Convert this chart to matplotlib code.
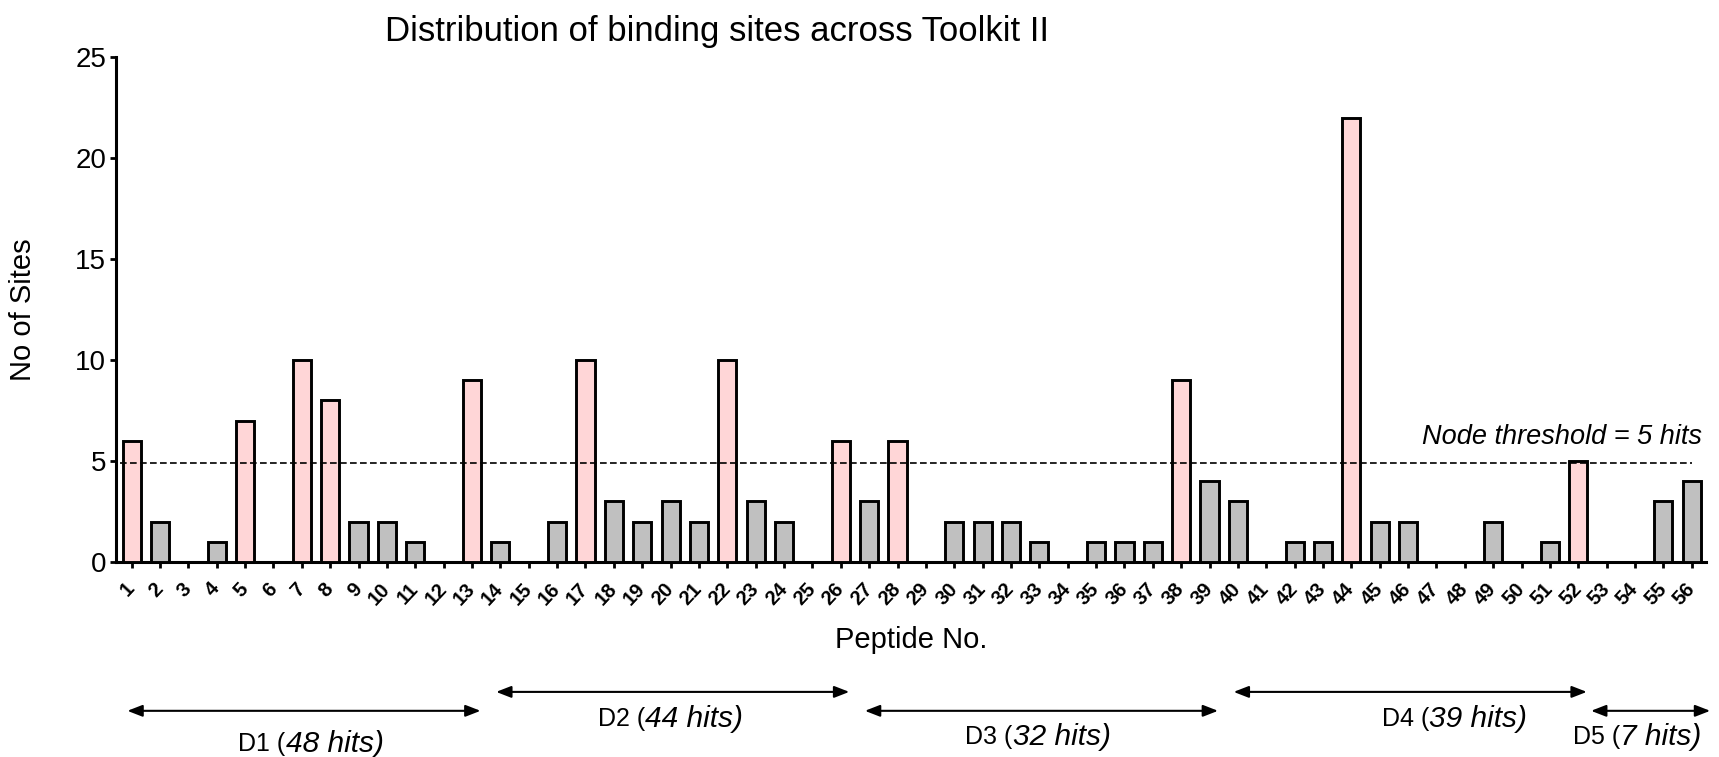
import matplotlib
matplotlib.use("Agg")
import matplotlib.pyplot as plt
import matplotlib.transforms as mtransforms

plt.rcParams['font.family'] = ['Liberation Sans', 'DejaVu Sans']

# peptide numbers and number of binding sites per peptide
peptides = list(range(1, 57))
sites = [6, 2, 0, 1, 7, 0, 10, 8, 2, 2, 1, 0, 9, 1, 0, 2, 10, 3, 2, 3,
         2, 10, 3, 2, 0, 6, 3, 6, 0, 2, 2, 2, 1, 0, 1, 1, 1, 9, 4, 3,
         0, 1, 1, 22, 2, 2, 0, 0, 2, 0, 1, 5, 0, 0, 3, 4]
threshold = 5

# domains: first and last peptide, hit count
domain_names = ["D1", "D2", "D3", "D4", "D5"]
domain_start = [1, 14, 27, 40, 53]
domain_end = [13, 26, 39, 52, 56]
domain_hits = [48, 44, 32, 39, 7]

pink = "#ffd6d7"
grey = "#c0c0c0"
colors = [pink if s >= threshold else grey for s in sites]

fig = plt.figure(figsize=(17.19, 7.57), dpi=100)
ax = fig.add_axes([0.0675, 0.2576, 0.9249, 0.6671])

ax.bar(peptides, sites, width=0.64, color=colors, edgecolor="black",
       linewidth=2.1, zorder=3)
ax.hlines(threshold - 0.1, 0.6, 56, colors="black", linestyles=(0, (4, 2)),
          linewidth=1.2, zorder=4)
ax.text(56.35, 6.2, "Node threshold = 5 hits", ha="right", va="center",
        fontsize=19.5, style="italic")

ax.set_xlim(0.45, 56.5)
ax.set_ylim(0, 25)
ax.set_yticks([0, 5, 10, 15, 20, 25])
ax.set_xticks(peptides)
ax.set_xticklabels([str(p) for p in peptides], rotation=47, ha="right",
                   va="center", rotation_mode="anchor", fontsize=14.5,
                   fontweight="bold")
ax.tick_params(axis="both", direction="out", length=4, width=2)
ax.tick_params(axis="y", labelsize=20, pad=3)
ax.tick_params(axis="x", pad=13)

for side in ["top", "right"]:
    ax.spines[side].set_visible(False)
for side in ["left", "bottom"]:
    ax.spines[side].set_linewidth(2.2)

ax.set_ylabel("No of Sites", fontsize=21)
ax.yaxis.set_label_coords(-0.050, 0.5)
ax.set_xlabel("Peptide No.", fontsize=21)
ax.xaxis.set_label_coords(0.5, -0.127)
fig.text(0.224, 0.959, "Distribution of binding sites across Toolkit II",
         ha="left", va="center", fontsize=25)

# domain arrows below the axis
trans = mtransforms.blended_transform_factory(ax.transData, fig.transFigure)
arrow_y = [0.061, 0.086, 0.061, 0.086, 0.061]
label_y = [0.017, 0.050, 0.027, 0.050, 0.027]
label_shift = [-0.65, -0.97, -1.02, 0.66, -1.08]
for i, name in enumerate(domain_names):
    x0 = domain_start[i] - 0.15
    x1 = domain_end[i] + 0.3
    if i == len(domain_names) - 1:
        x0 = domain_start[i] - 0.55
        x1 = domain_end[i] + 0.65
    ax.annotate("", xy=(x1, arrow_y[i]), xytext=(x0, arrow_y[i]),
                xycoords=trans, textcoords=trans, annotation_clip=False,
                arrowprops=dict(arrowstyle="<|-|>,head_length=0.9,head_width=0.35",
                                color="black", lw=1.5, shrinkA=0, shrinkB=0))
    mid = (x0 + x1) / 2 + label_shift[i]
    ax.text(mid, label_y[i], name + " (", transform=trans, ha="right",
            va="center", fontsize=18)
    ax.text(mid, label_y[i], str(domain_hits[i]) + " hits)", transform=trans,
            ha="left", va="center", fontsize=21.5, style="italic")

fig.savefig("out.png", dpi=100)
